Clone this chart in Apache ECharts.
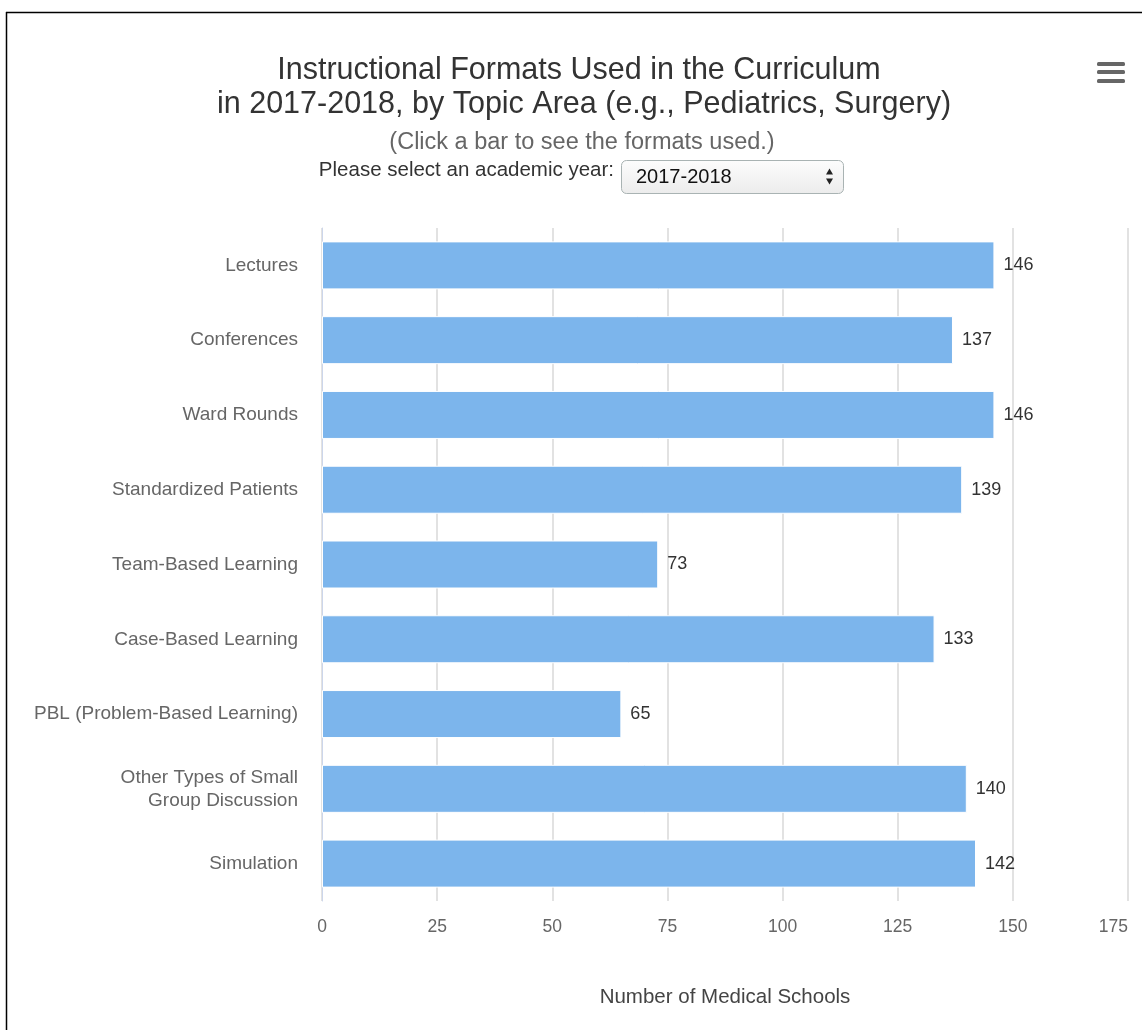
<!DOCTYPE html>
<html>
<head>
<meta charset="utf-8">
<title>Instructional Formats Used in the Curriculum</title>
<script src="https://cdn.jsdelivr.net/npm/echarts@6/dist/echarts.min.js"></script>
<style>
  html, body { margin: 0; padding: 0; background: #fff; }
  #chart { width: 1142px; height: 1030px; }
</style>
</head>
<body>
<div id="chart"></div>
<script>
// Instructional formats and number of medical schools using each (2017-2018)
const categories = [
  'Lectures',
  'Conferences',
  'Ward Rounds',
  'Standardized Patients',
  'Team-Based Learning',
  'Case-Based Learning',
  'PBL (Problem-Based Learning)',
  'Other Types of Small\nGroup Discussion',
  'Simulation'
];
const schoolCounts = [146, 137, 146, 139, 73, 133, 65, 140, 142];
const academicYear = '2017-2018';
const xTicks = { min: 0, max: 175, interval: 25 };

const FONT = '"Liberation Sans", Arial, Helvetica, sans-serif';
const titleStyle = { fontFamily: FONT, fontSize: 30.5, fontWeight: 'normal', color: '#333333', lineHeight: 34 };

const chart = echarts.init(document.getElementById('chart'), null, { renderer: 'canvas' });

chart.setOption({
  backgroundColor: '#ffffff',
  animation: false,
  textStyle: { fontFamily: FONT },
  title: [
    {
      text: 'Instructional Formats Used in the Curriculum',
      left: 574,
      top: 49,
      textAlign: 'center',
      textStyle: titleStyle
    },
    {
      text: 'in ' + academicYear + ', by Topic Area (e.g., Pediatrics, Surgery)',
      left: 579,
      top: 83,
      textAlign: 'center',
      textStyle: titleStyle
    },
    {
      text: '(Click a bar to see the formats used.)',
      left: 577,
      top: 125,
      textAlign: 'center',
      textStyle: { fontFamily: FONT, fontSize: 23.5, fontWeight: 'normal', color: '#666666', lineHeight: 26 }
    }
  ],
  grid: { left: 322, right: 14, top: 228, bottom: 129, containLabel: false },
  xAxis: {
    type: 'value',
    min: xTicks.min,
    max: xTicks.max,
    interval: xTicks.interval,
    name: 'Number of Medical Schools',
    nameLocation: 'middle',
    nameGap: 86,
    nameTextStyle: { fontFamily: FONT, fontSize: 20.5, color: '#444444' },
    axisLine: { show: false },
    axisTick: { show: false },
    axisLabel: { fontFamily: FONT, fontSize: 17.5, color: '#666666', margin: 17, alignMaxLabel: 'right' },
    splitLine: { show: true, lineStyle: { color: '#d9d9d9', width: 1.5 } }
  },
  yAxis: {
    type: 'category',
    data: categories,
    inverse: true,
    axisLine: { show: true, lineStyle: { color: '#ccd6eb', width: 1 } },
    axisTick: { show: false },
    axisLabel: { fontFamily: FONT, fontSize: 19, color: '#666666', margin: 24, lineHeight: 23, align: 'right' },
    splitLine: { show: false }
  },
  series: [
    {
      type: 'bar',
      data: schoolCounts,
      barWidth: 48,
      itemStyle: { color: '#7cb5ec', borderColor: '#ffffff', borderWidth: 1 },
      label: {
        show: true,
        position: 'right',
        distance: 9,
        fontFamily: FONT,
        fontSize: 18,
        color: '#333333'
      }
    }
  ],
  graphic: [
    // page frame (top and left edges)
    { type: 'line', shape: { x1: 6, y1: 12.5, x2: 1142, y2: 12.5 }, style: { stroke: '#000', lineWidth: 1.5 }, silent: true },
    { type: 'line', shape: { x1: 6.5, y1: 12, x2: 6.5, y2: 1030 }, style: { stroke: '#000', lineWidth: 1.5 }, silent: true },
    // context menu icon
    { type: 'rect', shape: { x: 1097, y: 62, width: 28, height: 4, r: 1.5 }, style: { fill: '#666666' } },
    { type: 'rect', shape: { x: 1097, y: 70, width: 28, height: 4, r: 1.5 }, style: { fill: '#666666' } },
    { type: 'rect', shape: { x: 1097, y: 79, width: 28, height: 4, r: 1.5 }, style: { fill: '#666666' } },
    // academic year selector
    {
      type: 'text',
      x: 614, y: 170,
      style: { text: 'Please select an academic year:', fontFamily: FONT, fontSize: 20.5, fill: '#333333', align: 'right', verticalAlign: 'middle' }
    },
    {
      type: 'rect',
      shape: { x: 621.5, y: 160.5, width: 222, height: 33, r: 5 },
      style: {
        fill: new echarts.graphic.LinearGradient(0, 0, 0, 1, [
          { offset: 0, color: '#fdfdfd' },
          { offset: 1, color: '#ececec' }
        ]),
        stroke: '#a9b3b3',
        lineWidth: 1
      }
    },
    {
      type: 'text',
      x: 636, y: 177,
      style: { text: academicYear, fontFamily: FONT, fontSize: 20, fill: '#111111', align: 'left', verticalAlign: 'middle' }
    },
    { type: 'polygon', shape: { points: [[826, 174.5], [833, 174.5], [829.5, 168.5]] }, style: { fill: '#222222' } },
    { type: 'polygon', shape: { points: [[826, 178.5], [833, 178.5], [829.5, 184.5]] }, style: { fill: '#222222' } }
  ]
});
</script>
</body>
</html>
